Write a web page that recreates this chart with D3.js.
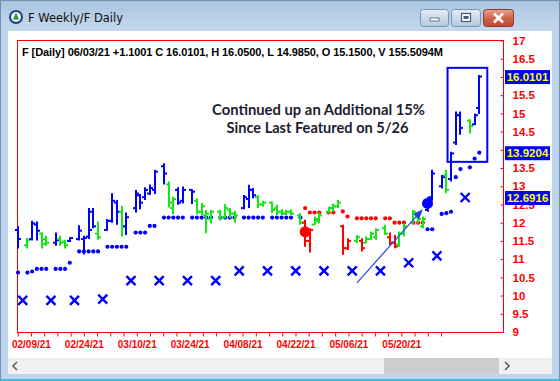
<!DOCTYPE html>
<html><head><meta charset="utf-8">
<script src="https://cdn.jsdelivr.net/npm/d3@7/dist/d3.min.js"></script>
<style>body{margin:0;background:#fff;overflow:hidden}svg{display:block}</style>
</head><body>
<svg id="c" width="560" height="381"></svg>
<script>
// ---------------- DATA ----------------
const dates = ["2021-02-05","2021-02-08","2021-02-09","2021-02-10","2021-02-11","2021-02-12","2021-02-16","2021-02-17","2021-02-18","2021-02-19",
"2021-02-22","2021-02-23","2021-02-24","2021-02-25","2021-02-26","2021-03-01","2021-03-02","2021-03-03","2021-03-04","2021-03-05",
"2021-03-08","2021-03-09","2021-03-10","2021-03-11","2021-03-12","2021-03-15","2021-03-16","2021-03-17","2021-03-18","2021-03-19",
"2021-03-22","2021-03-23","2021-03-24","2021-03-25","2021-03-26","2021-03-29","2021-03-30","2021-03-31","2021-04-01",
"2021-04-05","2021-04-06","2021-04-07","2021-04-08","2021-04-09","2021-04-12","2021-04-13","2021-04-14","2021-04-15","2021-04-16",
"2021-04-19","2021-04-20","2021-04-21","2021-04-22","2021-04-23","2021-04-26","2021-04-27","2021-04-28","2021-04-29","2021-04-30",
"2021-05-03","2021-05-04","2021-05-05","2021-05-06","2021-05-07","2021-05-10","2021-05-11","2021-05-12","2021-05-13","2021-05-14",
"2021-05-17","2021-05-18","2021-05-19","2021-05-20","2021-05-21","2021-05-24","2021-05-25","2021-05-26","2021-05-27","2021-05-28",
"2021-06-01","2021-06-02","2021-06-03"];
const highs = [11.91,11.58,12.05,12.03,11.74,11.64,11.73,11.64,11.53,11.60,
11.93,11.64,12.40,12.40,12.03,12.10,12.81,12.62,12.46,12.28,
12.90,12.79,12.97,13.05,13.45,13.63,13.13,12.72,12.97,12.99,
12.92,12.67,12.55,12.35,12.35,12.35,12.51,12.40,12.32,
12.76,13.04,12.95,12.76,12.60,12.58,12.49,12.37,12.35,12.37,
12.26,12.08,11.85,12.17,12.28,12.44,12.53,12.62,11.94,11.57,
11.66,11.57,11.62,11.76,11.85,11.94,11.73,11.66,11.76,11.98,
12.35,12.19,12.17,12.71,13.45,13.31,13.45,13.95,15.05,15.05,
14.84,15.00,16.05];
const lows = [11.29,11.29,11.51,11.51,11.29,11.37,11.37,11.37,11.29,11.47,
11.51,11.13,11.55,11.85,11.53,11.78,12.00,11.94,11.62,11.66,
12.28,12.37,12.62,12.76,12.79,13.05,12.42,12.23,12.49,12.53,
12.51,12.23,12.21,11.71,11.98,12.06,12.12,12.12,12.00,
12.37,12.40,12.67,12.40,12.44,12.26,12.21,12.21,12.21,12.21,
11.94,11.34,11.18,11.94,11.98,12.26,12.30,12.40,11.12,11.25,
11.44,11.21,11.44,11.53,11.53,11.66,11.39,11.30,11.34,11.62,
11.98,11.98,11.85,12.30,12.60,12.94,12.81,13.13,14.13,14.41,
14.45,14.68,14.985];
const opens = [11.80,11.38,11.55,11.95,11.70,11.55,11.45,11.55,11.48,11.50,
11.55,11.55,11.62,12.30,11.70,11.80,12.05,12.55,12.30,11.90,
12.40,12.75,12.70,12.80,12.90,13.55,13.05,12.40,12.90,12.60,
12.90,12.60,12.30,12.20,12.10,12.30,12.15,12.35,12.25,
12.40,12.65,12.90,12.70,12.50,12.55,12.40,12.30,12.25,12.30,
12.20,12.00,11.50,11.95,12.05,12.30,12.40,12.45,11.90,11.30,
11.50,11.50,11.45,11.55,11.60,11.85,11.60,11.45,11.40,11.70,
12.00,12.15,11.90,12.35,12.70,13.00,13.30,13.20,14.20,14.95,
14.80,14.70,15.15];
const closes = [11.55,11.52,11.98,11.78,11.42,11.45,11.52,11.45,11.38,11.58,
11.78,11.58,11.80,11.90,11.60,12.05,12.60,12.30,11.90,12.15,
12.80,12.55,12.90,12.95,13.40,13.35,12.55,12.65,12.55,12.90,
12.85,12.30,12.45,12.25,12.30,12.15,12.40,12.25,12.20,
12.70,12.90,12.75,12.50,12.55,12.35,12.30,12.25,12.30,12.25,
12.00,11.50,11.80,12.10,12.20,12.40,12.45,12.55,11.30,11.50,
11.60,11.30,11.55,11.70,11.80,11.70,11.45,11.35,11.70,11.90,
12.30,12.10,12.10,12.65,13.35,13.25,12.90,13.90,14.95,14.60,
14.65,14.95,16.0101];
const barColors = ["b","g","b","b","g","g","b","g","g","b",
"b","b","b","b","g","b","b","b","g","b",
"b","b","b","b","b","b","g","g","b","b",
"b","g","g","g","g","g","g","g","g",
"b","b","b","g","g","g","g","g","g","g",
"g","r","r","g","g","g","g","g","r","r",
"g","r","g","g","g","g","r","r","g","g",
"g","g","g","b","b","b","g","b","b","b",
"g","b","b"];
// trailing stop dots (blue = below price, red = above price)
const stopValues = [10.63,10.63,10.66,10.73,10.73,10.73,10.73,10.73,10.73,10.90,
11.21,11.21,11.21,11.21,11.21,11.34,11.34,11.34,11.34,11.34,
11.73,11.73,11.73,11.91,11.91,12.14,12.14,12.14,12.14,12.14,
12.14,12.14,12.14,12.14,12.14,12.14,12.14,12.14,12.14,
12.14,12.14,12.14,12.14,12.14,12.14,12.14,12.14,12.14,12.14,
12.14,12.40,12.28,12.28,12.28,12.28,12.28,null,12.31,12.17,
12.12,12.12,12.12,12.12,12.12,12.12,12.12,12.00,12.00,12.00,
12.00,12.00,12.00,11.82,11.82,12.24,12.26,12.30,13.25,13.47,
13.52,13.76,13.9204];
const stopSide = ["b","b","b","b","b","b","b","b","b","b",
"b","b","b","b","b","b","b","b","b","b",
"b","b","b","b","b","b","b","b","b","b",
"b","b","b","b","b","b","b","b","b",
"b","b","b","b","b","b","b","b","b","b",
"b","r","r","r","r","r","r","r","r","r",
"r","r","r","r","r","r","r","r","r","r",
"r","r","r","b","b","b","b","b","b","b",
"b","b","b"];
// weekly markers (X), plotted at the week-end gap
const weeklyDates = ["2021-02-06","2021-02-13","2021-02-20","2021-02-27","2021-03-06","2021-03-13","2021-03-20","2021-03-27",
"2021-04-03","2021-04-10","2021-04-17","2021-04-24","2021-05-01","2021-05-08","2021-05-15","2021-05-22","2021-05-29"];
const weeklyValues = [9.87,9.87,9.87,9.90,10.41,10.41,10.41,10.41,10.68,10.68,10.68,10.68,10.68,10.68,10.90,11.09,12.6916];
// signals
const signalDates = ["2021-04-20","2021-05-20"];
const signalValues = [11.75,12.53];
const signalColors = ["r","b"];
// axes
const priceTicks = d3.range(9, 17.001, 0.5);
const xTickLabels = ["02/09/21","02/24/21","03/10/21","03/24/21","04/08/21","04/22/21","05/06/21","05/20/21"];
const xTickCount = 33;
const priceFlags = [16.0101, 13.9204, 12.6916];
const headerText = "F [Daily] 06/03/21  +1.1001 C 16.0101, H 16.0500, L 14.9850, O 15.1500, V 155.5094M";
const noteLines = ["Continued up an Additional 15%", "Since Last Featured on 5/26"];
const arrowFrom = ["2021-05-03", 10.35];
const arrowTo = ["2021-05-19", 12.37];
const boxFrom = "2021-05-26", boxTo = "2021-06-03", boxTop = 16.25, boxBottom = 13.67;

// ---------------- CALENDAR SLOTS ----------------
const parse = d3.timeParse("%Y-%m-%d"), fmt = d3.timeFormat("%Y-%m-%d");
const trading = new Set(dates);
const slotOf = {};
{
  let cur = -1, prevT = false;
  for (let d = parse(dates[0]); d <= parse(dates[dates.length-1]); d = d3.timeDay.offset(d, 1)) {
    const k = fmt(d);
    if (trading.has(k)) { cur++; slotOf[k] = cur; prevT = true; }
    else { if (prevT) { cur++; prevT = false; } slotOf[k] = cur; }
  }
}
const lastSlot = slotOf[dates[dates.length-1]];

// ---------------- COLORS ----------------
const C = {b:"#0000ff", g:"#16e616", r:"#ff0000"};

const svg = d3.select("#c");
const W = 560, H = 381;

// ---------------- WINDOW CHROME ----------------
const defs = svg.append("defs");
const tg = defs.append("linearGradient").attr("id","tb").attr("x1",0).attr("y1",0).attr("x2",0).attr("y2",1);
tg.append("stop").attr("offset",0).attr("stop-color","#a9c3df");
tg.append("stop").attr("offset",1).attr("stop-color","#c5d9ee");
const bg = defs.append("linearGradient").attr("id","btn").attr("x1",0).attr("y1",0).attr("x2",0).attr("y2",1);
bg.append("stop").attr("offset",0).attr("stop-color","#e6eef8");
bg.append("stop").attr("offset",0.5).attr("stop-color","#ccdaeb");
bg.append("stop").attr("offset",1).attr("stop-color","#b5c9e2");
const cg = defs.append("linearGradient").attr("id","cls").attr("x1",0).attr("y1",0).attr("x2",0).attr("y2",1);
cg.append("stop").attr("offset",0).attr("stop-color","#e8a493");
cg.append("stop").attr("offset",0.5).attr("stop-color","#d2644c");
cg.append("stop").attr("offset",1).attr("stop-color","#c0442d");

svg.append("rect").attr("width",W).attr("height",H).attr("fill","#bed4ec");
svg.append("rect").attr("width",W).attr("height",31).attr("fill","url(#tb)");
svg.append("rect").attr("x",0.5).attr("y",0.5).attr("width",W-1).attr("height",H-1).attr("fill","none").attr("stroke","#6f8fb3");
svg.append("line").attr("x1",0).attr("x2",W).attr("y1",380).attr("y2",380).attr("stroke","#3fb8dc").attr("stroke-width",2);
// icon
svg.append("circle").attr("cx",16).attr("cy",17).attr("r",7).attr("fill","#22407e");
svg.append("circle").attr("cx",16).attr("cy",17).attr("r",5).attr("fill","#f4f4f4");
svg.append("path").attr("d","M16,12.5 L19,19.5 L13,19.5 Z").attr("fill","#2a9a3a");
svg.append("text").attr("x",28).attr("y",22).attr("font-family","'DejaVu Sans', sans-serif").attr("font-size",11.5).attr("fill","#111").text("F Weekly/F Daily");
// buttons
svg.append("rect").attr("x",420.5).attr("y",9.5).attr("width",28).attr("height",17).attr("rx",3).attr("fill","url(#btn)").attr("stroke","#7d93b0");
svg.append("rect").attr("x",430).attr("y",18).attr("width",9).attr("height",3).attr("fill","#fff").attr("stroke","#4a5a70").attr("stroke-width",0.8);
svg.append("rect").attr("x",451.5).attr("y",9.5).attr("width",29).attr("height",17).attr("rx",3).attr("fill","url(#btn)").attr("stroke","#7d93b0");
svg.append("rect").attr("x",461.5).attr("y",13.5).attr("width",9).attr("height",8).attr("fill","#fff").attr("stroke","#4a5a70").attr("stroke-width",1.2);
svg.append("rect").attr("x",463.5).attr("y",16).attr("width",5).attr("height",3).attr("fill","#4a5a70");
svg.append("rect").attr("x",483.5).attr("y",9.5).attr("width",30).attr("height",17).attr("rx",3).attr("fill","url(#cls)").attr("stroke","#8a3a2e");
svg.append("path").attr("d","M494,13.5 L503,22.5 M503,13.5 L494,22.5").attr("stroke","#fff").attr("stroke-width",2.6);

// client area
svg.append("rect").attr("x",8).attr("y",31).attr("width",544).attr("height",343).attr("fill","#fff");
// scrollbar
svg.append("rect").attr("x",8).attr("y",358).attr("width",544).attr("height",16).attr("fill","#f0f0f0");
svg.append("rect").attr("x",384).attr("y",358).attr("width",115).attr("height",16).attr("fill","#cdcdcd");
svg.append("path").attr("d","M17,362 L13,366 L17,370").attr("fill","none").attr("stroke","#606060").attr("stroke-width",1.6);
svg.append("path").attr("d","M505,362 L509,366 L505,370").attr("fill","none").attr("stroke","#606060").attr("stroke-width",1.6);

// ---------------- SCALES ----------------
const pl = 17, pr = 503, pt = 40, pb = 332;
const x = d3.scaleLinear().domain([0, lastSlot]).range([18, 479.3]);
const y = d3.scaleLinear().domain([9, 17]).range([pb, 40.5]);
const xt = d3.scaleLinear().domain([0, xTickCount-1]).range([17.7, 441]);
const X = d => x(slotOf[d]);

// frame
svg.append("rect").attr("x",pl+0.5).attr("y",pt+0.5).attr("width",pr-pl).attr("height",pb-pt).attr("fill","none").attr("stroke","#ff0000");

// header
svg.append("text").attr("x",22).attr("y",56).attr("font-family","'Liberation Sans', Arial, sans-serif")
  .attr("font-weight","bold").attr("font-size",11).attr("fill","#000").attr("textLength",421).attr("lengthAdjust","spacing").text(headerText);

// note
const note = svg.append("g").attr("font-family","Lato, 'Open Sans', sans-serif").attr("font-weight","bold").attr("font-size",15.5).attr("fill","#1c1d2e").attr("text-anchor","middle");
note.append("text").attr("x",318.5).attr("y",115).attr("textLength",213).attr("lengthAdjust","spacingAndGlyphs").text(noteLines[0]);
note.append("text").attr("x",317.5).attr("y",133).attr("textLength",182).attr("lengthAdjust","spacingAndGlyphs").text(noteLines[1]);

// bottom axis
const ax = svg.append("g").attr("transform",`translate(0,${pb+0.5})`)
  .call(d3.axisBottom(xt).tickValues(d3.range(xTickCount)).tickSize(4).tickPadding(4)
    .tickFormat(i => (i-1) % 4 === 0 && xTickLabels[(i-1)/4] ? xTickLabels[(i-1)/4] : ""));
ax.select(".domain").remove();
ax.selectAll("line").attr("stroke","#ff0000");
ax.selectAll("text").attr("fill","#ff0000").attr("font-family","'Liberation Sans', Arial, sans-serif").attr("font-weight","bold").attr("font-size",10);

// right axis (labels fully hidden under a price flag are left out, as in the source)
const hidden = v => priceFlags.some(f => Math.abs(f - v) < 0.1);
const ay = svg.append("g").attr("transform",`translate(${pr+0.5},0)`)
  .call(d3.axisRight(y).tickValues(priceTicks).tickSizeInner(-3).tickSizeOuter(0).tickPadding(9)
    .tickFormat(d => hidden(d) ? "" : (Number.isInteger(d) ? String(d) : d.toFixed(1))));
ay.select(".domain").remove();
ay.selectAll("line").attr("stroke","#ff0000");
ay.selectAll("text").attr("fill","#ff0000").attr("font-family","'Liberation Sans', Arial, sans-serif").attr("font-weight","bold").attr("font-size",11.5).attr("text-anchor","start");

// flags
const fl = svg.append("g").selectAll("g").data(priceFlags).join("g").attr("transform",d=>`translate(0,${y(d)})`);
fl.append("rect").attr("x",505).attr("y",-6.5).attr("width",45).attr("height",14).attr("fill","#0000ff");
fl.append("text").attr("x",527.5).attr("y",4.5).attr("text-anchor","middle").attr("fill","#ffff00")
  .attr("font-family","'Liberation Sans', Arial, sans-serif").attr("font-weight","bold").attr("font-size",11.5).text(d=>d.toFixed(4));

// weekly X markers
const wk = svg.append("g").attr("stroke","#0000ff").attr("stroke-width",2.4);
weeklyDates.forEach((d,i) => {
  const cx = X(d), cy = y(weeklyValues[i]);
  wk.append("path").attr("d",`M${cx-4.5},${cy-4.5}L${cx+4.5},${cy+4.5}M${cx+4.5},${cy-4.5}L${cx-4.5},${cy+4.5}`);
});

// stop dots
svg.append("g").selectAll("circle").data(dates.map((d,i)=>({d,v:stopValues[i],s:stopSide[i]})).filter(o=>o.v!=null))
  .join("circle").attr("cx",o=>X(o.d)).attr("cy",o=>y(o.v)).attr("r",2.1).attr("fill",o=>C[o.s]);

// OHLC bars
const bars = svg.append("g");
dates.forEach((d,i) => {
  const cx = Math.round(X(d)), col = C[barColors[i]];
  const g = bars.append("g").attr("stroke",col).attr("stroke-width",2);
  g.append("line").attr("x1",cx).attr("x2",cx).attr("y1",y(highs[i])).attr("y2",y(lows[i]));
  g.append("line").attr("x1",cx-3).attr("x2",cx).attr("y1",y(opens[i])).attr("y2",y(opens[i]));
  g.append("line").attr("x1",cx).attr("x2",cx+3).attr("y1",y(closes[i])).attr("y2",y(closes[i]));
});

// signals
svg.append("g").selectAll("circle").data(signalDates).join("circle")
  .attr("cx",d=>X(d)).attr("cy",(d,i)=>y(signalValues[i])).attr("r",5.5).attr("fill",(d,i)=>C[signalColors[i]]);

// arrow
{
  const x1 = X(arrowFrom[0]), y1 = y(arrowFrom[1]), x2 = X(arrowTo[0]), y2 = y(arrowTo[1]);
  const a = Math.atan2(y2-y1, x2-x1), L = 10, Wd = 4;
  const bx = x2 - L*Math.cos(a), by = y2 - L*Math.sin(a);
  svg.append("line").attr("x1",x1).attr("y1",y1).attr("x2",bx).attr("y2",by).attr("stroke","#3350e8").attr("stroke-width",1.3);
  svg.append("path").attr("d",`M${x2},${y2}L${bx - Wd*Math.sin(a)},${by + Wd*Math.cos(a)}L${bx + Wd*Math.sin(a)},${by - Wd*Math.cos(a)}Z`).attr("fill","#2040e8");
}

// highlight box
svg.append("rect").attr("x",X(boxFrom)-3.5).attr("y",y(boxTop)).attr("width",X(boxTo)+8-(X(boxFrom)-3.5)).attr("height",y(boxBottom)-y(boxTop))
  .attr("fill","none").attr("stroke","#0000ff").attr("stroke-width",2);
</script>
</body></html>
